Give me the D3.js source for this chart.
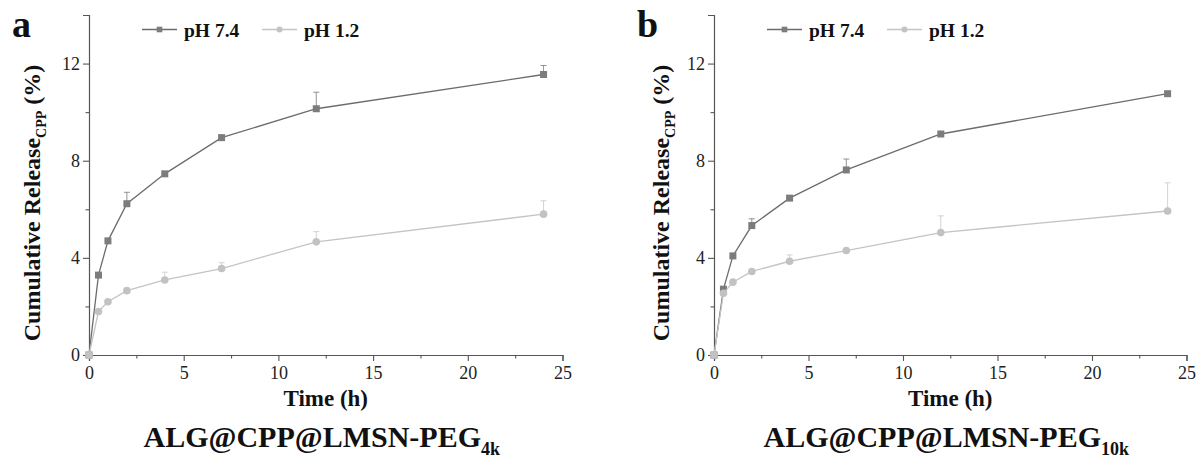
<!DOCTYPE html>
<html>
<head>
<meta charset="utf-8">
<script src="https://cdn.jsdelivr.net/npm/d3@7"></script>
<style>
  html, body { margin: 0; padding: 0; background: #fff; }
  svg { display: block; font-family: "Liberation Serif", "Times New Roman", serif; }
</style>
</head>
<body>
<svg id="chart" width="1196" height="466"></svg>
<script>
// Sampling times (h)
const times = [0, 0.5, 1, 2, 4, 7, 12, 24];

// ALG@CPP@LMSN-PEG4k cumulative CPP release (%)
const peg4kPH74 = [0, 3.29, 4.70, 6.23, 7.46, 8.95, 10.14, 11.55];
const peg4kPH74Err = [0, 0, 0, 0.47, 0, 0, 0.68, 0.37];
const peg4kPH12 = [0, 1.79, 2.19, 2.65, 3.09, 3.56, 4.66, 5.80];
const peg4kPH12Err = [0, 0, 0, 0, 0.32, 0.24, 0.42, 0.55];

// ALG@CPP@LMSN-PEG10k cumulative CPP release (%)
const peg10kPH74 = [0, 2.71, 4.08, 5.33, 6.46, 7.62, 9.10, 10.76];
const peg10kPH74Err = [0, 0, 0, 0.28, 0, 0.45, 0, 0];
const peg10kPH12 = [0, 2.54, 3.00, 3.44, 3.86, 4.30, 5.04, 5.93];
const peg10kPH12Err = [0, 0, 0, 0, 0.26, 0, 0.69, 1.16];

// Axis ticks
const xMajorTicks = [0, 5, 10, 15, 20, 25];
const xMinorTicks = [2.5, 7.5, 12.5, 17.5, 22.5];
const yMajorTicks = [0, 4, 8, 12];
const yMinorTicks = [2, 6, 10];

const seriesNames = ["pH 7.4", "pH 1.2"];

const panels = [
  { letter: "a", title: "ALG@CPP@LMSN-PEG", sub: "4k",
    series: [peg4kPH74, peg4kPH12], errors: [peg4kPH74Err, peg4kPH12Err],
    left: 89, right: 562.5, labelX: 40 },
  { letter: "b", title: "ALG@CPP@LMSN-PEG", sub: "10k",
    series: [peg10kPH74, peg10kPH12], errors: [peg10kPH74Err, peg10kPH12Err],
    left: 714, right: 1186.5, labelX: 669 }
];

const styles = [
  { line: "#6c6c6c", fill: "#7c7c7c", shape: "square" },
  { line: "#c4c4c4", fill: "#c2c2c2", shape: "circle" }
];

const svg = d3.select("#chart");
const plotTop = 15, plotBottom = 355;
const axisColor = "#555";

function drawMarker(g, shape, x, y, fill) {
  if (shape === "square") {
    g.append("rect").attr("x", x - 3.5).attr("y", y - 3.5)
      .attr("width", 7).attr("height", 7).attr("fill", fill);
  } else {
    g.append("circle").attr("cx", x).attr("cy", y).attr("r", 3.8).attr("fill", fill);
  }
}

panels.forEach(p => {
  const g = svg.append("g");
  const x = d3.scaleLinear().domain([0, 25]).range([p.left, p.right]);
  const y = d3.scaleLinear().domain([0, 14]).range([plotBottom, plotTop]);

  // Bottom axis: major ticks with labels, minor ticks without
  const xAxis = g.append("g").attr("transform", `translate(0,${plotBottom})`)
    .call(d3.axisBottom(x).tickValues(xMajorTicks).tickSize(6).tickPadding(4).tickFormat(d3.format("d")));
  g.append("g").attr("transform", `translate(0,${plotBottom})`)
    .call(d3.axisBottom(x).tickValues(xMinorTicks).tickSize(3.5).tickFormat(""))
    .select(".domain").remove();

  g.append("g").attr("transform", `translate(${p.left},0)`)
    .call(d3.axisLeft(y).tickValues(yMajorTicks).tickSize(6).tickPadding(3).tickFormat(d3.format("d")));
  g.append("g").attr("transform", `translate(${p.left},0)`)
    .call(d3.axisLeft(y).tickValues(yMinorTicks).tickSize(3.5).tickFormat(""))
    .select(".domain").remove();

  g.selectAll(".domain").attr("stroke", axisColor).attr("stroke-width", 1.2);
  g.selectAll(".tick line").attr("stroke", axisColor).attr("stroke-width", 1.1);
  g.selectAll(".tick text").attr("font-family", "Liberation Serif").attr("font-size", 18).attr("fill", "#222");
  xAxis.selectAll(".tick text").attr("dy", "0.75em");

  // Series: line, upward error bars, markers
  p.series.forEach((vals, si) => {
    const st = styles[si];
    const pts = times.map((t, i) => [x(t), y(vals[i])]);
    g.append("path").attr("d", d3.line()(pts))
      .attr("fill", "none").attr("stroke", st.line).attr("stroke-width", 1.3);

    const errs = p.errors[si];
    times.forEach((t, i) => {
      if (errs[i] > 0) {
        const cx = x(t), y0 = y(vals[i]), y1 = y(vals[i] + errs[i]);
        g.append("line").attr("x1", cx).attr("x2", cx).attr("y1", y0).attr("y2", y1)
          .attr("stroke", st.line).attr("stroke-width", 0.9).attr("opacity", 0.8);
        g.append("line").attr("x1", cx - 3).attr("x2", cx + 3).attr("y1", y1).attr("y2", y1)
          .attr("stroke", st.line).attr("stroke-width", 0.9).attr("opacity", 0.8);
      }
    });
    times.forEach((t, i) => drawMarker(g, st.shape, x(t), y(vals[i]), st.fill));
  });

  // Legend
  const lx = p.left + 53;
  const legendOffsets = [0, 120];
  seriesNames.forEach((name, si) => {
    const st = styles[si];
    const ox = lx + legendOffsets[si];
    g.append("line").attr("x1", ox).attr("x2", ox + 35).attr("y1", 29.5).attr("y2", 29.5)
      .attr("stroke", st.line).attr("stroke-width", 1.3);
    if (st.shape === "square") {
      g.append("rect").attr("x", ox + 17.5 - 2.8).attr("y", 29.5 - 2.8)
        .attr("width", 5.6).attr("height", 5.6).attr("fill", st.fill);
    } else {
      g.append("circle").attr("cx", ox + 17.5).attr("cy", 29.5).attr("r", 3).attr("fill", st.fill);
    }
    g.append("text").attr("x", ox + 42).attr("y", 37)
      .attr("font-size", 19.5).attr("font-weight", "bold").attr("fill", "#111").text(name);
  });

  // Panel letter
  g.append("text").attr("x", p.left - 77).attr("y", 37)
    .attr("font-size", 38).attr("font-weight", "bold").attr("fill", "#111").text(p.letter);

  // Y axis label with subscript
  const yl = g.append("text")
    .attr("transform", `translate(${p.labelX},203) rotate(-90)`)
    .attr("text-anchor", "middle").attr("font-size", 24).attr("font-weight", "bold").attr("fill", "#111");
  yl.append("tspan").text("Cumulative Release");
  yl.append("tspan").attr("font-size", 14).attr("dy", 6).text("CPP");
  yl.append("tspan").attr("dy", -6).text(" (%)");

  // X axis label
  g.append("text").attr("x", (p.left + p.right) / 2).attr("y", 406)
    .attr("text-anchor", "middle").attr("font-size", 23).attr("font-weight", "bold").attr("fill", "#111")
    .text("Time (h)");

  // Panel title with subscript
  const tt = g.append("text").attr("x", (p.left + p.right) / 2 - 4).attr("y", 447)
    .attr("text-anchor", "middle").attr("font-size", 30).attr("font-weight", "bold").attr("fill", "#111");
  tt.append("tspan").text(p.title);
  tt.append("tspan").attr("font-size", 18).attr("dy", 8).text(p.sub);
});
</script>
</body>
</html>
